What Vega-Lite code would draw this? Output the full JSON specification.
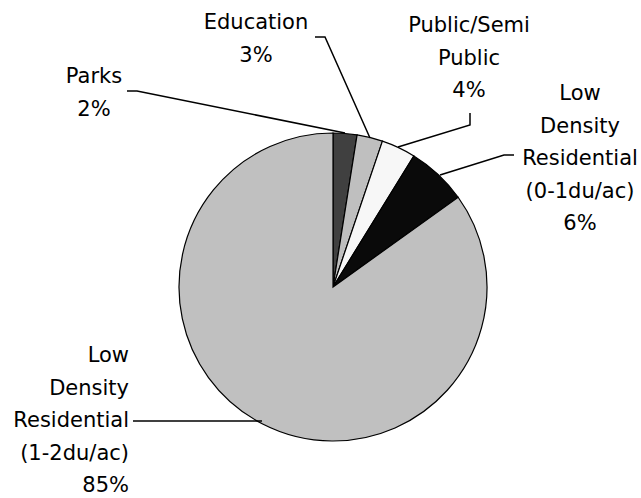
{
  "$schema": "https://vega.github.io/schema/vega-lite/v6.json",
  "width": 616,
  "height": 422,
  "autosize": {"type": "none"},
  "padding": {"left": 25, "top": 76, "right": 0, "bottom": 0},
  "background": "white",
  "config": {"view": {"stroke": null}},
  "datasets": {
    "slices": [
      {"category": "Parks", "value": 2.5, "order": 1},
      {"category": "Education", "value": 2.7, "order": 2},
      {"category": "Public/Semi Public", "value": 3.6, "order": 3},
      {"category": "Low Density Residential (0-1du/ac)", "value": 6.3, "order": 4},
      {"category": "Low Density Residential (1-2du/ac)", "value": 84.9, "order": 5}
    ],
    "labels": [
      {"label": "Parks\n2%", "x": -239, "y": 204, "side": "center"},
      {"label": "Education\n3%", "x": -77, "y": 258, "side": "center"},
      {"label": "Public/Semi\nPublic\n4%", "x": 136, "y": 255, "side": "center"},
      {"label": "Low\nDensity\nResidential\n(0-1du/ac)\n6%", "x": 247, "y": 187, "side": "center"},
      {"label": "Low\nDensity\nResidential\n(1-2du/ac)\n85%", "x": -204, "y": -75, "side": "right"}
    ],
    "leaders": [
      {"slice": "Parks", "seq": 1, "x": -206, "y": 196},
      {"slice": "Parks", "seq": 2, "x": -196, "y": 196},
      {"slice": "Parks", "seq": 3, "x": 12, "y": 154},
      {"slice": "Education", "seq": 1, "x": -18, "y": 250},
      {"slice": "Education", "seq": 2, "x": -8, "y": 250},
      {"slice": "Education", "seq": 3, "x": 37, "y": 149},
      {"slice": "Public", "seq": 1, "x": 137, "y": 174},
      {"slice": "Public", "seq": 2, "x": 137, "y": 162},
      {"slice": "Public", "seq": 3, "x": 65, "y": 140},
      {"slice": "LD01", "seq": 1, "x": 181, "y": 132},
      {"slice": "LD01", "seq": 2, "x": 171, "y": 132},
      {"slice": "LD01", "seq": 3, "x": 107, "y": 112},
      {"slice": "LD12", "seq": 1, "x": -200, "y": -134},
      {"slice": "LD12", "seq": 2, "x": -71, "y": -134}
    ]
  },
  "layer": [
    {
      "data": {"name": "slices"},
      "mark": {"type": "arc", "radius": 154, "stroke": "black", "strokeWidth": 1.2},
      "encoding": {
        "theta": {"field": "value", "type": "quantitative", "stack": true},
        "order": {"field": "order", "type": "quantitative"},
        "color": {
          "field": "category",
          "type": "nominal",
          "legend": null,
          "scale": {
            "domain": ["Parks", "Education", "Public/Semi Public", "Low Density Residential (0-1du/ac)", "Low Density Residential (1-2du/ac)"],
            "range": ["#404040", "#bfbfbf", "#f7f7f7", "#0a0a0a", "#c0c0c0"]
          }
        }
      }
    },
    {
      "data": {"name": "leaders"},
      "mark": {"type": "line", "color": "black", "strokeWidth": 1.5},
      "encoding": {
        "x": {"field": "x", "type": "quantitative", "axis": null, "scale": {"domain": [-308, 308], "nice": false, "zero": false}},
        "y": {"field": "y", "type": "quantitative", "axis": null, "scale": {"domain": [-211, 211], "nice": false, "zero": false}},
        "detail": {"field": "slice", "type": "nominal"},
        "order": {"field": "seq", "type": "quantitative"}
      }
    },
    {
      "data": {"name": "labels"},
      "transform": [{"filter": "datum.side === 'center'"}],
      "mark": {"type": "text", "align": "center", "baseline": "alphabetic", "lineBreak": "\n", "lineHeight": 32.5, "font": "DejaVu Sans", "fontSize": 21, "color": "black"},
      "encoding": {
        "x": {"field": "x", "type": "quantitative", "axis": null, "scale": {"domain": [-308, 308], "nice": false, "zero": false}},
        "y": {"field": "y", "type": "quantitative", "axis": null, "scale": {"domain": [-211, 211], "nice": false, "zero": false}},
        "text": {"field": "label", "type": "nominal"}
      }
    },
    {
      "data": {"name": "labels"},
      "transform": [{"filter": "datum.side === 'right'"}],
      "mark": {"type": "text", "align": "right", "baseline": "alphabetic", "lineBreak": "\n", "lineHeight": 32.5, "font": "DejaVu Sans", "fontSize": 21, "color": "black"},
      "encoding": {
        "x": {"field": "x", "type": "quantitative", "axis": null, "scale": {"domain": [-308, 308], "nice": false, "zero": false}},
        "y": {"field": "y", "type": "quantitative", "axis": null, "scale": {"domain": [-211, 211], "nice": false, "zero": false}},
        "text": {"field": "label", "type": "nominal"}
      }
    }
  ]
}
